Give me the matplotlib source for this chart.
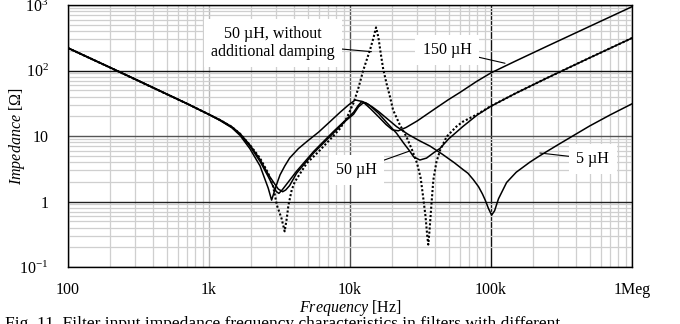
import numpy as np
import matplotlib
matplotlib.use('Agg')
import matplotlib.pyplot as plt
from matplotlib.ticker import NullFormatter, FixedLocator, LogLocator

plt.rcParams['font.family'] = ['Liberation Serif', 'DejaVu Serif']
plt.rcParams['mathtext.fontset'] = 'custom'
plt.rcParams['mathtext.rm'] = 'Liberation Serif'
plt.rcParams['mathtext.it'] = 'Liberation Serif:italic'
plt.rcParams['mathtext.bf'] = 'Liberation Serif:bold'

# --- data (frequency in Hz, impedance in ohm) ---
f_150 = [100, 150, 200, 300, 500, 700, 1000, 1200, 1450, 1660, 1950, 2300, 2630, 2780, 2900,
         3050, 3190, 3450, 3730, 4300, 4930, 6000, 7200, 8500, 9800, 10900, 12300, 14000,
         16000, 18000, 20000, 22000, 25000, 30000, 40000, 50000, 60000, 79000, 100000,
         150000, 250000, 500000, 1000000]
z_150 = [222, 148, 111, 74, 44, 31.2, 21.3, 17.2, 13.4, 10.2, 6.4, 3.5, 1.6, 1.05, 1.4,
         1.95, 2.55, 3.5, 4.6, 6.4, 8.2, 11.5, 16.5, 23, 30, 35.5, 33.5, 26,
         19.5, 15, 12.4, 12, 13.5, 17, 26, 36, 46, 68, 92,
         140, 235, 471, 942]

f_50 = [100, 150, 200, 300, 500, 700, 1000, 1200, 1450, 1660, 1950, 2300, 2630, 2850, 3000,
        3130, 3300, 3560, 4180, 5520, 7600, 9300, 10600, 11400, 12100, 13000, 14000, 16000,
        18000, 21400, 24000, 26500, 28300, 31300, 34900, 39000, 43600, 50000, 63000,
        80000, 100000, 150000, 250000, 500000, 1000000]
z_50 = [219, 146, 110, 73, 43.5, 31, 21.2, 17.4, 13.6, 10.6, 7.0, 4.1, 2.4, 1.7, 1.42,
        1.33, 1.5, 1.85, 2.9, 5.8, 11.6, 17.5, 23, 29, 33.5, 32, 28.5, 22,
        16.5, 11, 7.8, 5.9, 4.8, 4.3, 4.6, 5.5, 6.5, 9, 13.9,
        21, 28.5, 45, 77, 156, 313]

f_5 = [100, 150, 200, 300, 500, 700, 1000, 1200, 1450, 1660, 1950, 2300, 2630, 2900, 3100,
       3330, 3500, 3730, 4180, 5520, 7600, 9300, 10600, 11500, 12400, 13300, 14500, 16000,
       18000, 21400, 26000, 31000, 37000, 45000, 55000, 63000, 68600, 75000, 81600, 87000,
       91000, 96000, 101000, 106000, 113000, 129000, 151000, 189000, 222000, 300000,
       500000, 700000, 1000000]
z_5 = [221, 147, 110.5, 73.5, 43.8, 31.1, 21.4, 17.6, 13.9, 10.9, 7.3, 4.4, 2.6, 1.9, 1.55,
       1.41, 1.5, 1.75, 2.7, 5.5, 11, 17, 21.5, 28, 32, 31, 27.5, 23.5,
       19, 13.9, 10.5, 8.5, 7.0, 5.3, 3.9, 3.1, 2.7, 2.15, 1.68, 1.3,
       1.05, 0.78, 0.62, 0.72, 1.1, 1.95, 2.8, 4.0, 5.0, 7.4,
       14.2, 21, 31]

f_und = [100, 150, 200, 300, 500, 700, 1000, 1200, 1450, 1660, 1950, 2300, 2630, 2850, 3030,
         3270, 3440, 3560, 3660, 3860, 4060, 4930, 6000, 7200, 8500, 9500, 10600, 11500,
         12400, 13200, 13900, 14700, 15300, 15900, 16600, 17200, 18200, 19200, 20200,
         22500, 25100, 27500, 29900, 31700, 33000, 34300, 35300, 35900, 36600, 37800,
         39000, 41000, 43600, 48500, 56800, 63000, 80000, 100000, 150000, 250000,
         500000, 1000000]
z_und = [220, 147, 110, 73, 43.6, 31.1, 21.3, 17.5, 13.8, 10.8, 7.3, 4.6, 2.7, 1.7, 0.88,
         0.55, 0.35, 0.55, 0.88, 1.5, 2.0, 3.83, 5.8, 8.8, 13, 19, 32, 55,
         100, 150, 210, 320, 455, 320, 170, 105, 62, 40, 25,
         15, 9.8, 6.2, 3.83, 2.3, 1.18, 0.6, 0.3, 0.22, 0.35, 0.9,
         2.13, 4, 6.1, 9.8, 13.9, 16.5, 21.5, 28.7, 45, 77,
         156, 313]

x_ticks = [100, 1e3, 1e4, 1e5, 1e6]
x_labels = ['100', '1k', '10k', '100k', '1Meg']
y_ticks = [0.1, 1, 10, 100, 1000]
y_labels = [r'$10^{-1}$', '1', '10', r'$10^{2}$', r'$10^{3}$']

fig = plt.figure(figsize=(6.8, 3.24), dpi=100)
ax = fig.add_axes([68/680, 1-267/324, 564/680, 262/324])

ax.plot(f_150, z_150, color='black', lw=1.1, zorder=4)
ax.plot(f_50, z_50, color='black', lw=1.1, zorder=4)
ax.plot(f_5, z_5, color='black', lw=1.1, zorder=4)
ax.plot(f_und, z_und, color='black', lw=1.5, ls=(0, (1, 1)), zorder=4)

ax.set_xscale('log')
ax.set_yscale('log')
ax.set_xlim(100, 1e6)
ax.set_ylim(0.1, 1000)

ax.xaxis.set_major_locator(FixedLocator(x_ticks))
ax.set_xticklabels(x_labels)
ax.yaxis.set_major_locator(FixedLocator(y_ticks))
ax.set_yticklabels(y_labels)
ax.xaxis.set_minor_locator(LogLocator(base=10, subs=np.arange(2, 10)))
ax.yaxis.set_minor_locator(LogLocator(base=10, subs=np.arange(2, 10)))
ax.xaxis.set_minor_formatter(NullFormatter())
ax.yaxis.set_minor_formatter(NullFormatter())
ax.tick_params(which='both', length=0, labelsize=11.5)
ax.tick_params(axis='x', pad=11)
ax.tick_params(axis='y', pad=14)

ax.grid(True, which='minor', color='#cfcfcf', lw=0.9, zorder=0)
ax.grid(True, which='major', color='#303030', lw=1.0, zorder=1)
ax.set_axisbelow(True)
# some decade lines are lighter in the original
xcols = {1e3: '#b8b8b8', 1e4: '#505050', 1e5: '#101010'}
for line, t in zip(ax.get_xgridlines(), x_ticks):
    if t in xcols:
        line.set_color(xcols[t])
ycols = {1: '#202020', 10: '#555555', 100: '#101010'}
for line, t in zip(ax.get_ygridlines(), y_ticks):
    if t in ycols:
        line.set_color(ycols[t])

for s in ax.spines.values():
    s.set_color('black')
    s.set_linewidth(1.0)

ax.set_xlabel(r'$\mathit{Frequency}$ [Hz]', fontsize=11.5)
ax.xaxis.set_label_coords(0.5, -0.118)
ax.set_ylabel(r'$\mathit{Impedance}$ [$\Omega$]', fontsize=11.5)
ax.yaxis.set_label_coords(-0.073, 0.5)

box = dict(boxstyle='square,pad=0.45', fc='white', ec='none')
lead = dict(arrowstyle='-', color='black', lw=0.8, shrinkA=0, shrinkB=0)
ax.annotate('50 \u00b5H, without\nadditional damping', xy=(14200, 194), xytext=(2844, 263),
            ha='center', va='center', fontsize=11.5, linespacing=1.15,
            bbox=box, arrowprops=lead, zorder=3)
ax.annotate('150 \u00b5H', xy=(125700, 129), xytext=(48700, 206),
            ha='center', va='center', fontsize=11.5, bbox=box, arrowprops=lead, zorder=3)
ax.annotate('50 \u00b5H', xy=(26500, 5.9), xytext=(11100, 3.03),
            ha='center', va='center', fontsize=11.5, bbox=box, arrowprops=lead, zorder=3)
ax.annotate('5 \u00b5H', xy=(222000, 5.5), xytext=(528000, 4.45),
            ha='center', va='center', fontsize=11.5, bbox=box, arrowprops=lead, zorder=3)

fig.text(0.008, 1-316/324, 'Fig. 11. Filter input impedance frequency characteristics in filters with different',
         fontsize=12.5, va='top', ha='left')

fig.savefig('out.png', dpi=100)
